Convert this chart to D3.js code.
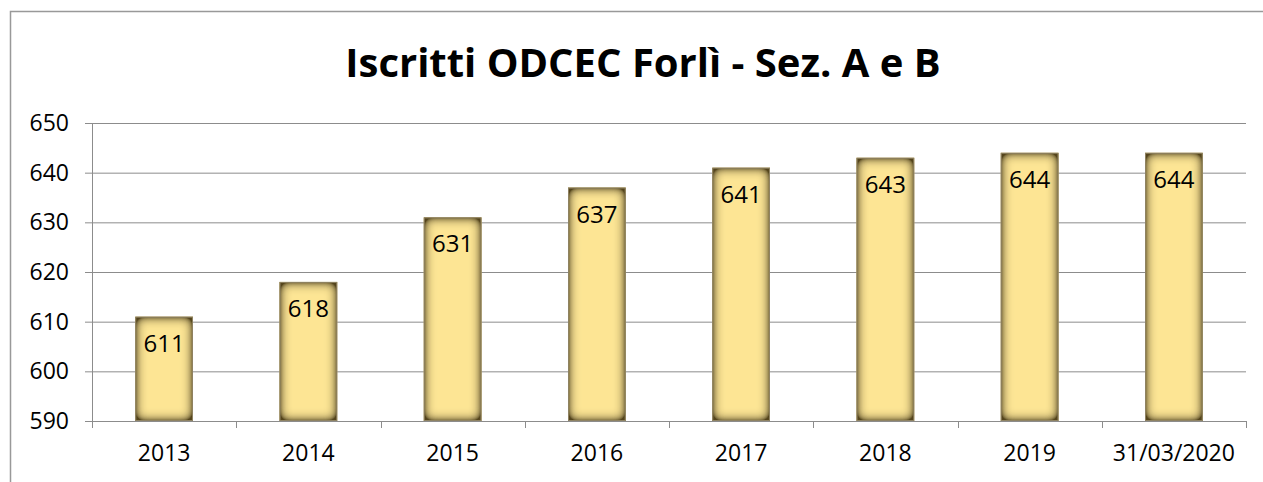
<!DOCTYPE html>
<html>
<head>
<meta charset="utf-8">
<script src="https://cdn.jsdelivr.net/npm/d3@7"></script>
<style>
  body { margin: 0; background: #fff; }
  text { font-family: "Open Sans", "Liberation Sans", sans-serif; fill: #000; }
</style>
</head>
<body>
<div id="chart"></div>
<script>
// data
var categories = ["2013", "2014", "2015", "2016", "2017", "2018", "2019", "31/03/2020"];
var values = [611, 618, 631, 637, 641, 643, 644, 644];
var yTicks = [590, 600, 610, 620, 630, 640, 650];
var title = "Iscritti ODCEC Forlì - Sez. A e B";

var W = 1263, H = 482;
var margin = {top: 123, right: 17, bottom: 61, left: 92},
    width = W - margin.left - margin.right,
    height = H - margin.top - margin.bottom;

var svg = d3.select("#chart").append("svg")
    .attr("width", W)
    .attr("height", H);

// chart frame
svg.append("rect")
    .attr("x", 10.5).attr("y", 11.5)
    .attr("width", W + 20).attr("height", H + 20)
    .attr("fill", "#fff")
    .attr("stroke", "#999").attr("stroke-width", 1.5);

// inner-shadow look for the bars
var defs = svg.append("defs");
var f = defs.append("filter").attr("id", "inner")
    .attr("filterUnits", "userSpaceOnUse")
    .attr("x", -50).attr("y", -50).attr("width", W + 100).attr("height", H + 100);
f.append("feComponentTransfer").attr("in", "SourceAlpha").attr("result", "inv")
    .append("feFuncA").attr("type", "table").attr("tableValues", "1 0");
f.append("feGaussianBlur").attr("in", "inv").attr("stdDeviation", 6).attr("result", "blur");
f.append("feComponentTransfer").attr("in", "blur").attr("result", "blur2")
    .append("feFuncA").attr("type", "linear").attr("slope", 1.9).attr("intercept", 0);
f.append("feFlood").attr("flood-color", "#54441a").attr("flood-opacity", 1).attr("result", "col");
f.append("feComposite").attr("in", "col").attr("in2", "blur2").attr("operator", "in").attr("result", "sh");
f.append("feComposite").attr("in", "sh").attr("in2", "SourceAlpha").attr("operator", "in").attr("result", "sh2");
var m = f.append("feMerge");
m.append("feMergeNode").attr("in", "SourceGraphic");
m.append("feMergeNode").attr("in", "sh2");

// title
svg.append("text")
    .attr("x", 643).attr("y", 77)
    .attr("text-anchor", "middle")
    .style("font-size", "40px")
    .style("font-weight", "bold")
    .text(title);

var g = svg.append("g")
    .attr("transform", "translate(" + margin.left + "," + margin.top + ")");

var x = d3.scaleBand().domain(categories).range([0, width]).paddingInner(0.6).paddingOuter(0.3);
var xb = d3.scaleBand().domain(categories).range([0, width]);
var y = d3.scaleLinear().domain([590, 650]).range([height, 0]);

// gridlines
g.selectAll(".grid")
    .data(yTicks.slice(1))
    .enter().append("line")
    .attr("x1", 0).attr("x2", width)
    .attr("y1", function (d) { return y(d) + 0.5; })
    .attr("y2", function (d) { return y(d) + 0.5; })
    .attr("stroke", "#8c8c8c").attr("stroke-width", 1);

// Y axis
var yAxis = g.append("g")
    .call(d3.axisLeft(y).tickValues(yTicks).tickSize(7).tickPadding(16));
yAxis.selectAll("text").style("font-size", "23px");
yAxis.selectAll("line,path").attr("stroke", "#8c8c8c");

// X axis
var xAxis = g.append("g")
    .attr("transform", "translate(0," + height + ")")
    .call(d3.axisBottom(xb).tickSize(0).tickPadding(24));
xAxis.selectAll("text").style("font-size", "23px");
xAxis.select("path").attr("stroke", "#8c8c8c");
g.selectAll(".xtick")
    .data(d3.range(categories.length + 1))
    .enter().append("line")
    .attr("x1", function (i) { return Math.round(i * xb.bandwidth()) + 0.5; })
    .attr("x2", function (i) { return Math.round(i * xb.bandwidth()) + 0.5; })
    .attr("y1", height).attr("y2", height + 7)
    .attr("stroke", "#8c8c8c");

// bars
g.selectAll(".bar")
    .data(values)
    .enter().append("rect")
    .attr("x", function (d, i) { return x(categories[i]); })
    .attr("width", x.bandwidth())
    .attr("y", function (d) { return y(d); })
    .attr("height", function (d) { return height - y(d); })
    .attr("fill", "#fde594")
    .attr("filter", "url(#inner)");

g.selectAll(".barline")
    .data(values)
    .enter().append("rect")
    .attr("x", function (d, i) { return x(categories[i]) + 0.5; })
    .attr("width", x.bandwidth() - 1)
    .attr("y", function (d) { return y(d) + 0.5; })
    .attr("height", function (d) { return height - y(d) - 1; })
    .attr("fill", "none")
    .attr("stroke", "#8f8363").attr("stroke-width", 1);

// labels
g.selectAll(".lbl")
    .data(values)
    .enter().append("text")
    .attr("x", function (d, i) { return x(categories[i]) + x.bandwidth() / 2; })
    .attr("y", function (d) { return y(d) + 35; })
    .attr("text-anchor", "middle")
    .style("font-size", "24px")
    .text(function (d) { return d; });
</script>
</body>
</html>
